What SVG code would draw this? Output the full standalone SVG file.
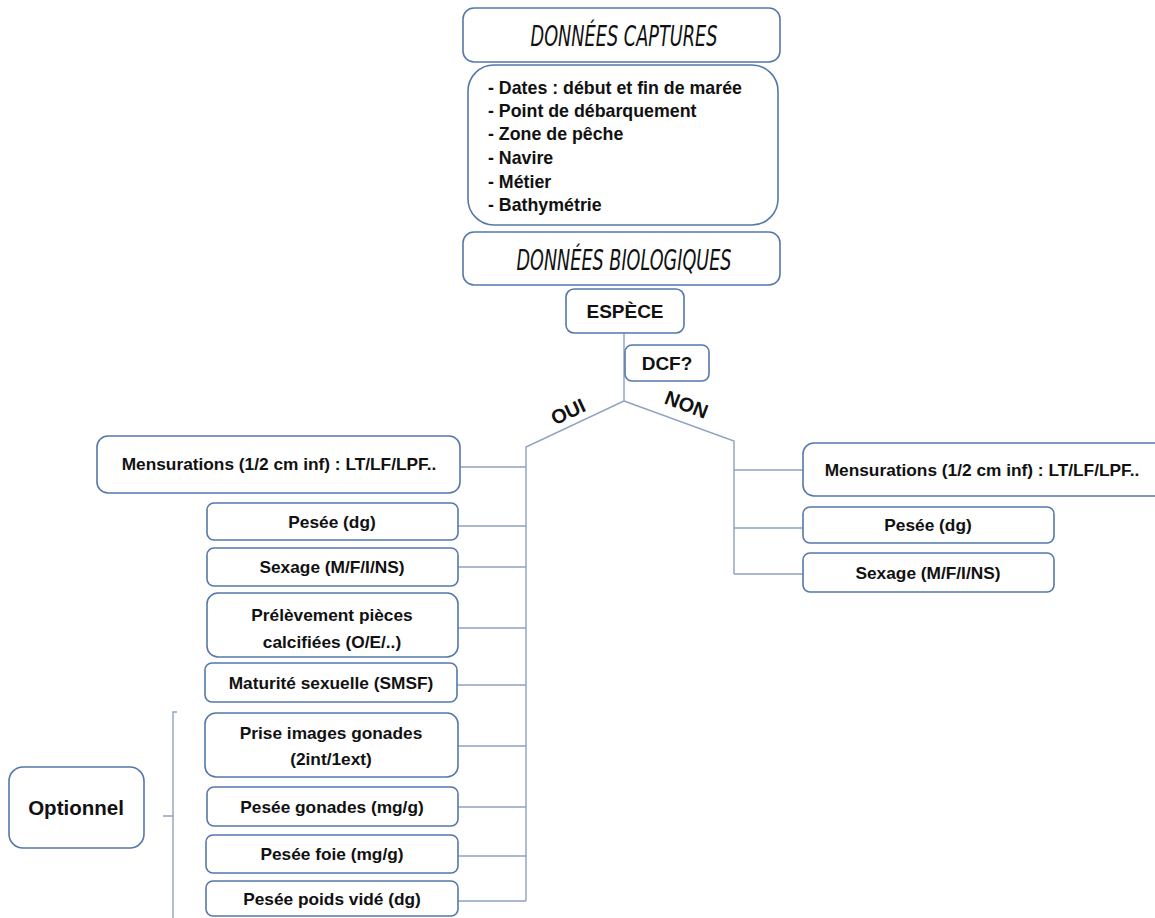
<svg xmlns="http://www.w3.org/2000/svg" width="1155" height="918" viewBox="0 0 1155 918">
<style>
.box{fill:#fff;stroke:#5478ab;stroke-width:1.6}
.t{font-family:"Liberation Sans",Arial,sans-serif;font-weight:bold;font-size:17.3px;fill:#111;text-anchor:middle}
.big{font-size:19px}
.title{font-family:"DejaVu Sans Condensed","Liberation Sans",sans-serif;font-style:oblique;font-size:28px;fill:#111;text-anchor:middle;font-weight:normal}
.li{font-family:"Liberation Sans",Arial,sans-serif;font-weight:bold;font-size:17.8px;fill:#111}
.c{fill:none;stroke:#8ea2c2;stroke-width:1.4}
</style>
<rect width="1155" height="918" fill="#fff"/>
<g id="connectors">
<path class="c" d="M624 333 V401 L526 447 V901"/>
<path class="c" d="M624 401 L734 441 V574"/>
<path class="c" d="M460 467 H526 M458 526 H526 M458 567 H526 M458 628 H526 M457 685 H526 M458 746 H526 M458 807 H526 M458 856 H526 M458 901 H526"/>
<path class="c" d="M734 470 H803 M734 528 H803 M734 574 H803"/>
<path class="c" d="M177 712 H173 V918 M163 816 H173"/>
</g>
<g id="captures"><rect class="box" x="463" y="8" width="317" height="54" rx="11"/><text class="title" x="624" y="46" textLength="187" lengthAdjust="spacingAndGlyphs">DONNÉES CAPTURES</text></g>
<g id="details"><rect class="box" x="468" y="65" width="310" height="160" rx="26"/>
<text class="li" x="488" y="94">- Dates : début et fin de marée</text>
<text class="li" x="488" y="117">- Point de débarquement</text>
<text class="li" x="488" y="140">- Zone de pêche</text>
<text class="li" x="488" y="164">- Navire</text>
<text class="li" x="488" y="188">- Métier</text>
<text class="li" x="488" y="211">- Bathymétrie</text></g>
<g id="biologiques"><rect class="box" x="463" y="232" width="317" height="53" rx="11"/><text class="title" x="624" y="270" textLength="215" lengthAdjust="spacingAndGlyphs">DONNÉES BIOLOGIQUES</text></g>
<g id="espece"><rect class="box" x="566" y="289" width="118" height="44" rx="8"/><text class="t big" x="625" y="318">ESPÈCE</text></g>
<g id="dcf"><rect class="box" x="625" y="345" width="84" height="36" rx="7"/><text class="t big" x="667" y="370">DCF?</text></g>
<g id="oui"><text class="t big" transform="translate(571 418) rotate(-25)" style="font-size:20px">OUI</text></g>
<g id="non"><text class="t big" transform="translate(684 411) rotate(21)" style="font-size:20px">NON</text></g>
<g id="l-mens"><rect class="box" x="97" y="436" width="363" height="57" rx="11"/><text class="t" x="279" y="470">Mensurations (1/2 cm inf) : LT/LF/LPF..</text></g>
<g id="l-pesee"><rect class="box" x="207" y="503" width="251" height="37" rx="7"/><text class="t" x="332" y="528">Pesée (dg)</text></g>
<g id="l-sexage"><rect class="box" x="207" y="548" width="251" height="38" rx="7"/><text class="t" x="332" y="573">Sexage (M/F/I/NS)</text></g>
<g id="l-prelev"><rect class="box" x="207" y="593" width="251" height="64" rx="11"/><text class="t" x="332" y="621">Prélèvement pièces</text><text class="t" x="332" y="648">calcifiées (O/E/..)</text></g>
<g id="l-matur"><rect class="box" x="205" y="663" width="252" height="39" rx="7"/><text class="t" x="331" y="689">Maturité sexuelle (SMSF)</text></g>
<g id="l-images"><rect class="box" x="205" y="713" width="253" height="64" rx="11"/><text class="t" x="331" y="739">Prise images gonades</text><text class="t" x="331" y="765">(2int/1ext)</text></g>
<g id="l-gonades"><rect class="box" x="207" y="787" width="251" height="39" rx="7"/><text class="t" x="332" y="813">Pesée gonades (mg/g)</text></g>
<g id="l-foie"><rect class="box" x="206" y="835" width="252" height="38" rx="7"/><text class="t" x="332" y="860">Pesée foie (mg/g)</text></g>
<g id="l-vide"><rect class="box" x="206" y="881" width="252" height="35" rx="7"/><text class="t" x="332" y="905">Pesée poids vidé (dg)</text></g>
<g id="optionnel"><rect class="box" x="9" y="767" width="135" height="81" rx="14"/><text class="t big" x="76" y="815" style="font-size:20.5px">Optionnel</text></g>
<g id="r-mens"><rect class="box" x="803" y="443" width="370" height="53" rx="11"/><text class="t" x="982" y="476">Mensurations (1/2 cm inf) : LT/LF/LPF..</text></g>
<g id="r-pesee"><rect class="box" x="803" y="507" width="251" height="36" rx="7"/><text class="t" x="928" y="531">Pesée (dg)</text></g>
<g id="r-sexage"><rect class="box" x="803" y="553" width="251" height="39" rx="7"/><text class="t" x="928" y="579">Sexage (M/F/I/NS)</text></g>
</svg>
